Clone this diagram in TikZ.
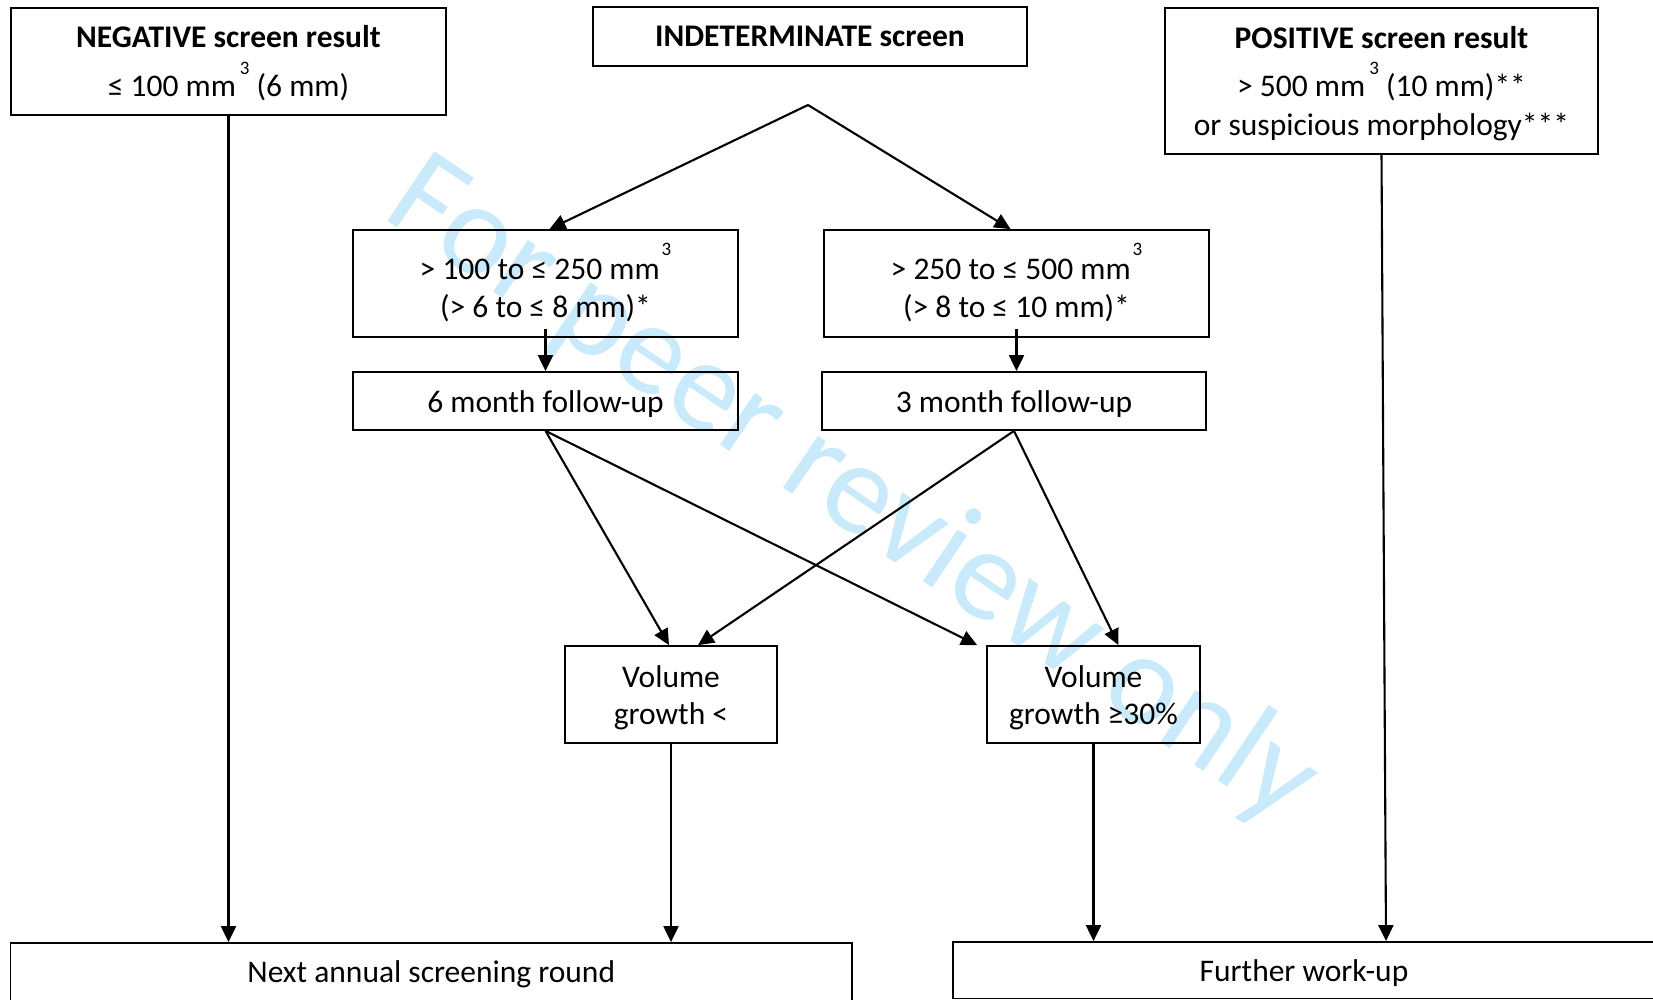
\documentclass[tikz,border=0pt]{standalone}
\usepackage{fontspec}
\setmainfont{Carlito}
\usetikzlibrary{arrows.meta,calc}
\definecolor{wmblue}{RGB}{200,234,250}
% raised cube exponent after "mm" (kept out of the line height)
\newcommand\supthree[1][22pt]{\smash{\raisebox{#1}{\fontsize{19}{19}\selectfont 3}}}
% centred lines; the box's baseline is that of the last line
\newcommand\stack[1]{\vbox{\halign{\hfil##\hfil\cr#1\crcr}}}
\newcommand\gap[1]{\noalign{\vskip#1}}

\begin{document}
\begin{tikzpicture}[x=1pt,y=-1pt,
  box/.style={draw, line width=1.8pt, inner sep=0pt,
    font=\fontsize{31.5}{38}\selectfont, text depth=0pt},
  bl/.style={text height=2*#1},
  conn/.style={line width=2.1pt, -{Triangle[length=16pt,width=15pt]}}]
\useasboundingbox (0,0) rectangle (1653,1000);

% watermark
\node[text=wmblue, rotate=-34, inner sep=0pt,
  font=\fontsize{131}{131}\selectfont] (wm) at (852,492) {For peer review only};

% top row
\node[box, bl=35.5pt, minimum width=435pt, minimum height=107pt] (neg) at (228.5,61.5)
  {\stack{\textbf{NEGATIVE screen result}\cr\gap{11pt}
          ≤ 100 mm\kern4pt\supthree\ (6 mm)}};
\node[box, bl=10.5pt, minimum width=434pt, minimum height=59pt] (indet) at (810,36.5)
  {\textbf{INDETERMINATE screen}};
\node[box, bl=55pt, minimum width=433pt, minimum height=146pt] (pos) at (1381.5,81)
  {\stack{\textbf{POSITIVE screen result}\cr\gap{10pt}
          > 500 mm\kern4pt\supthree\ (10 mm)**\cr\gap{1pt}
          or suspicious morphology***}};

% indeterminate size classes
\node[box, bl=33.5pt, minimum width=385pt, minimum height=107pt] (r1) at (545.5,283.5)
  {\stack{> 100 to ≤ 250 mm\kern2pt\supthree[24pt]\cr (> 6 to ≤ 8 mm)*}};
\node[box, bl=33.5pt, minimum width=385pt, minimum height=107pt] (r2) at (1016.5,283.5)
  {\stack{> 250 to ≤ 500 mm\kern2pt\supthree[24pt]\cr (> 8 to ≤ 10 mm)*}};

% follow-up
\node[box, bl=11pt, minimum width=385pt, minimum height=58pt] (f6) at (545.5,401) {6 month follow-up};
\node[box, bl=11pt, minimum width=384pt, minimum height=58pt] (f3) at (1014,401) {3 month follow-up};

% volume growth outcome
\node[box, bl=29.5pt, minimum width=212pt, minimum height=97pt] (v1) at (671,694.5)
  {\stack{Volume\cr\gap{-1pt} growth <}};
\node[box, bl=29.5pt, minimum width=213pt, minimum height=97pt] (v2) at (1093.5,694.5)
  {\stack{Volume\cr\gap{-1pt} growth ≥30\%}};

% final outcomes
\node[box, bl=9pt, minimum width=841.5pt, minimum height=60pt] (next) at (431.25,973) {Next annual screening round};
\node[box, bl=11pt, minimum width=702pt, minimum height=56.5pt] (work) at (1304,970.25) {Further work-up};

% connectors
\coordinate (apex) at (808,105);
\draw[conn] (apex) -- ([xshift=4pt]r1.north);
\draw[conn] (apex) -- ([xshift=-6pt]r2.north);
\draw[conn] ([yshift=9pt]r1.south) -- (f6.north);
\draw[conn] ([yshift=9pt]r2.south) -- (r2.south |- f3.north);
\draw[conn] (f6.south) -- ([xshift=-2pt]v1.north);
\draw[conn] (f6.south) -- ([xshift=-9pt]v2.north west);
\draw[conn] (f3.south) -- ([xshift=27pt]v1.north);
\draw[conn] (f3.south) -- ([xshift=25pt]v2.north);
\draw[conn] (neg.south) -- (neg.south |- next.north);
\draw[conn] (v1.south) -- (v1.south |- next.north);
\draw[conn] (v2.south) -- (v2.south |- work.north);
\draw[conn] (pos.south) -- ($(pos.south |- work.north)+(4.5,0)$);
\end{tikzpicture}
\end{document}
